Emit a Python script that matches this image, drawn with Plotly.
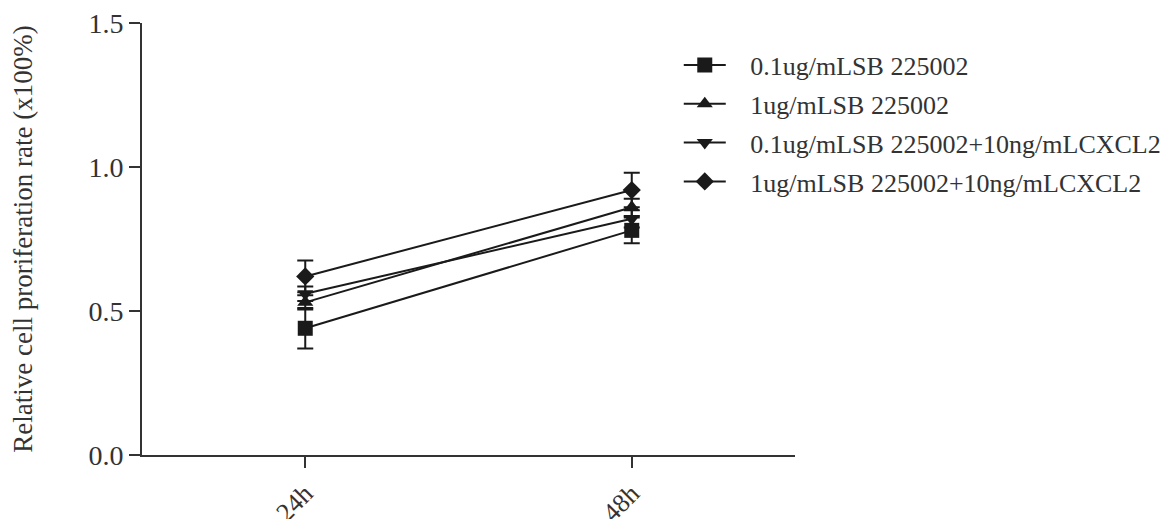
import plotly.graph_objects as go

categories = ["24h", "48h"]
series_names = [
    "0.1ug/mLSB 225002",
    "1ug/mLSB 225002",
    "0.1ug/mLSB 225002+10ng/mLCXCL2",
    "1ug/mLSB 225002+10ng/mLCXCL2",
]
series_values = [
    [0.44, 0.78],
    [0.53, 0.86],
    [0.56, 0.82],
    [0.62, 0.92],
]
series_errors = [
    [0.07, 0.045],
    [0.025, 0.03],
    [0.025, 0.03],
    [0.055, 0.06],
]
symbols = ["square", "triangle-up", "triangle-down", "diamond"]
sizes = [15, 14, 14, 14]
y_ticks = [0.0, 0.5, 1.0, 1.5]
y_ticklabels = ["0.0", "0.5", "1.0", "1.5"]

FONT = "Liberation Serif"
INK = "#1a1a1a"
TXT = "#333333"
PAD = "\u00a0\u00a0\u00a0"

fig = go.Figure()
for i, name in enumerate(series_names):
    fig.add_trace(go.Scatter(
        x=[0, 1],
        y=series_values[i],
        name=PAD + name,
        legendgroup=f"g{i}",
        mode="lines+markers",
        line=dict(color=INK, width=2),
        marker=dict(symbol=symbols[i], size=sizes[i], color=INK),
        error_y=dict(type="data", array=series_errors[i], visible=True,
                     color=INK, thickness=2, width=8),
    ))

fig.update_layout(
    width=1176, height=519,
    margin=dict(l=134, r=389, t=15, b=72, autoexpand=False),
    paper_bgcolor="white", plot_bgcolor="white",
    font=dict(family=FONT, size=26, color=TXT),
    showlegend=True,
    legend=dict(x=0.822, y=0.957, xanchor="left", yanchor="top",
                traceorder="grouped", tracegroupgap=2,
                itemwidth=42, font=dict(family=FONT, size=26, color=TXT),
                bgcolor="rgba(0,0,0,0)"),
    xaxis=dict(range=[-0.5, 1.5], tickmode="array", tickvals=[0, 1],
               ticktext=categories, tickangle=-45, showgrid=False,
               zeroline=False, showline=True, linecolor="#333", linewidth=2,
               ticks="outside", ticklen=11, tickwidth=2, tickcolor="#333",
               automargin=False, ticklabeloverflow="allow",
               tickfont=dict(size=26, family=FONT, color=TXT)),
    yaxis=dict(range=[0, 1.5], tickmode="array", tickvals=y_ticks,
               ticktext=y_ticklabels, showgrid=False, zeroline=False,
               showline=True, linecolor="#333", linewidth=2,
               ticks="outside", ticklen=11, tickwidth=2, tickcolor="#333",
               automargin=False, ticklabeloverflow="allow",
               tickfont=dict(size=28, family=FONT, color=TXT),
               title=dict(text="Relative cell proriferation rate (x100%)",
                          font=dict(size=27, family=FONT, color=TXT),
                          standoff=50)),
)

fig.write_html("out.html")
